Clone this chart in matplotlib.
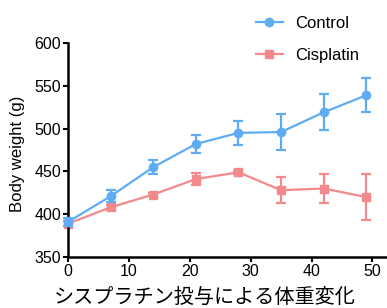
import matplotlib
matplotlib.use("Agg")
import matplotlib.pyplot as plt
from matplotlib.lines import Line2D

days = [0, 7, 14, 21, 28, 35, 42, 49]
control_mean = [391, 421, 455, 482, 495, 496, 519, 539]
control_err = [5, 7, 8, 10, 14, 21, 21, 20]
cis_mean = [389, 408, 423, 441, 449, 428, 430, 420]
cis_err = [3, 3, 2, 7, 2, 15, 17, 27]
xticks = [0, 10, 20, 30, 40, 50]
yticks = [350, 400, 450, 500, 550, 600]
xlabel = "シスプラチン投与による体重変化"
ylabel = "Body weight (g)"
series_labels = ["Control", "Cisplatin"]

blue = "#5EADF4"
red = "#F4898B"

plt.rcParams['font.family'] = ['Liberation Sans', 'DejaVu Sans']

fig = plt.figure(figsize=(3.87, 3.08), dpi=100)
ax = fig.add_axes([68/387, 1-257/308, 1-68/387, (257-43)/308])

ax.errorbar(days, control_mean, yerr=control_err, color=blue, marker='o',
            markersize=6, lw=1.6, capsize=3.5, capthick=1.6, elinewidth=1.6,
            zorder=3)
ax.errorbar(days, cis_mean, yerr=cis_err, color=red, marker='s',
            markersize=6, lw=1.6, capsize=3.5, capthick=1.6, elinewidth=1.6,
            zorder=2)

ax.set_xlim(0, 52.4)
ax.set_ylim(350, 600)
ax.set_xticks(xticks)
ax.set_yticks(yticks)
for s in ['top', 'right']:
    ax.spines[s].set_visible(False)
for s in ['left', 'bottom']:
    ax.spines[s].set_linewidth(1.8)
    ax.spines[s].set_color('black')
ax.tick_params(axis='both', direction='out', length=3.5, width=1.5,
               labelsize=11.5, colors='black', pad=1.5)
for art in ax.get_children():
    try:
        art.set_clip_on(False)
    except Exception:
        pass

fig.text(18/387, 0.5, ylabel, fontsize=12, rotation=90,
         ha='center', va='center')

fig.text(205/387, 1-297/308, xlabel, fontsize=14.5, ha='center', va='center',
         family=['Noto Sans CJK JP', 'DejaVu Sans'])

handles = [Line2D([], [], color=blue, marker='o', markersize=6, lw=1.6),
           Line2D([], [], color=red, marker='s', markersize=6, lw=1.6)]
fig.legend(handles, series_labels, loc='center left',
           bbox_to_anchor=(241/387, 1-39.5/308),
           frameon=False, fontsize=12, handlelength=1.6, handletextpad=0.75,
           labelspacing=1.0)

fig.savefig("out.png", dpi=100)
